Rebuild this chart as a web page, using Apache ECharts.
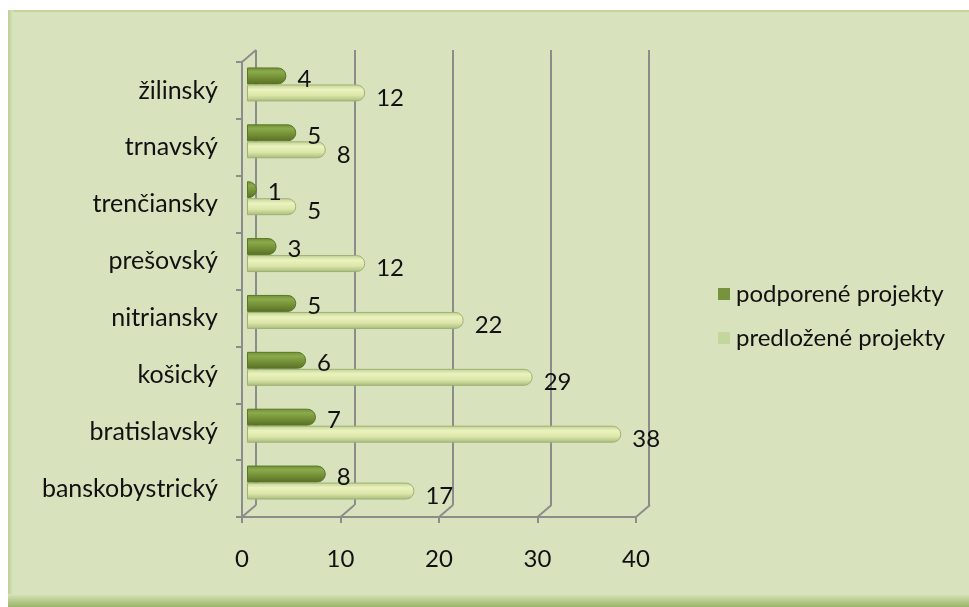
<!DOCTYPE html>
<html>
<head>
<meta charset="utf-8">
<title>Projekty podľa krajov</title>
<script src="https://cdn.jsdelivr.net/npm/echarts@6/dist/echarts.min.js"></script>
<style>
  html, body { margin: 0; padding: 0; background: #ffffff; }
  #main { width: 969px; height: 607px; }
</style>
</head>
<body>
<div id="main"></div>
<script>
// kraje odspodu nahor
var kraje = ['banskobystrický', 'bratislavský', 'košický', 'nitriansky',
             'prešovský', 'trenčiansky', 'trnavský', 'žilinský'];
var podporene = [8, 7, 6, 5, 3, 1, 5, 4];
var predlozene = [17, 38, 29, 22, 12, 5, 8, 12];
var osX = [0, 10, 20, 30, 40];

var font = 'Lato, "Open Sans", sans-serif';
var sivá = '#8c8c8c';

var tmava = new echarts.graphic.LinearGradient(0, 0, 0, 1, [
  { offset: 0, color: '#6f8e34' },
  { offset: 0.25, color: '#8aab4b' },
  { offset: 0.6, color: '#748f37' },
  { offset: 1, color: '#566f24' }
]);
var svetla = new echarts.graphic.LinearGradient(0, 0, 0, 1, [
  { offset: 0, color: '#c0d094' },
  { offset: 0.3, color: '#ebf3be' },
  { offset: 0.65, color: '#dbe6a8' },
  { offset: 1, color: '#a7b97d' }
]);

var chart = echarts.init(document.getElementById('main'));
var option = {
  animation: false,
  backgroundColor: '#ffffff',
  textStyle: { fontFamily: font },
  graphic: [
    { type: 'rect', z: -10, shape: { x: 8, y: 10, width: 961, height: 597 },
      style: { fill: '#d8e3bd' } },
    { type: 'rect', z: -9, shape: { x: 8, y: 10, width: 961, height: 2 },
      style: { fill: '#c3d59b' } },
    { type: 'rect', z: -9, shape: { x: 8, y: 10, width: 5, height: 597 },
      style: { fill: new echarts.graphic.LinearGradient(0, 0, 1, 0, [
        { offset: 0, color: '#bccf92' }, { offset: 1, color: '#d8e3bd' }]) } },
    { type: 'rect', z: -9, shape: { x: 8, y: 594, width: 961, height: 13 },
      style: { fill: new echarts.graphic.LinearGradient(0, 0, 0, 1, [
        { offset: 0, color: '#d8e3bd' }, { offset: 0.5, color: '#b9cc8f' },
        { offset: 1, color: '#9cb46b' }]) } }
  ],
  legend: {
    orient: 'vertical',
    left: 713,
    top: 277,
    itemWidth: 12,
    itemHeight: 12,
    itemGap: 20,
    icon: 'rect',
    data: [
      { name: 'podporené projekty', itemStyle: { color: '#77933c', borderWidth: 0 } },
      { name: 'predložené projekty', itemStyle: { color: '#c3d69b', borderWidth: 0 } }
    ],
    textStyle: { fontFamily: font, fontSize: 24, color: '#111', padding: [0, 0, 0, 1] }
  },
  grid: [
    { left: 242, top: 62, width: 394, height: 455 },   // predná rovina
    { left: 256, top: 50, width: 393, height: 455 },   // zadná stena
    { left: 247, top: 56, width: 394, height: 455 }    // stĺpce
  ],
  xAxis: [
    { gridIndex: 0, type: 'value', min: 0, max: 40, interval: 10,
      axisLine: { show: true, lineStyle: { color: sivá, width: 2 } },
      axisTick: { show: true, length: 6, lineStyle: { color: sivá, width: 2 } },
      axisLabel: { margin: 30, fontSize: 24, color: '#111', fontFamily: font },
      splitLine: { show: false } },
    { gridIndex: 1, type: 'value', min: 0, max: 40, interval: 10,
      axisLine: { show: false }, axisTick: { show: false }, axisLabel: { show: false },
      splitLine: { show: true, lineStyle: { color: sivá, width: 2 } } },
    { gridIndex: 2, type: 'value', min: 0, max: 40, interval: 10, show: false,
      splitLine: { show: false } }
  ],
  yAxis: [
    { gridIndex: 0, type: 'category', data: kraje,
      axisLine: { show: true, lineStyle: { color: sivá, width: 2 } },
      axisTick: { show: true, length: 6, lineStyle: { color: sivá, width: 2 } },
      axisLabel: { margin: 24, fontSize: 25, color: '#111', fontFamily: font } },
    { gridIndex: 1, type: 'category', data: kraje, show: false },
    { gridIndex: 2, type: 'category', data: kraje, show: false }
  ],
  series: [
    {
      name: 'podporené projekty', type: 'bar', xAxisIndex: 2, yAxisIndex: 2,
      data: podporene, barWidth: 17, barGap: '0%',
      itemStyle: { color: tmava, borderColor: '#5b7628', borderWidth: 1,
                   borderRadius: [0, 8, 8, 0] },
      label: { show: true, position: 'right', distance: 11, offset: [0, 3],
               fontSize: 24, color: '#111', fontFamily: font }
    },
    {
      name: 'predložené projekty', type: 'bar', xAxisIndex: 2, yAxisIndex: 2,
      data: predlozene, barWidth: 17, barGap: '0%',
      itemStyle: { color: svetla, borderColor: '#9fb175', borderWidth: 1,
                   borderRadius: [0, 8, 8, 0] },
      label: { show: true, position: 'right', distance: 11, offset: [0, 5],
               fontSize: 24, color: '#111', fontFamily: font }
    },
    {
      // šikmé spojnice podlahy a ľavej steny
      type: 'custom', xAxisIndex: 0, yAxisIndex: 0, silent: true,
      data: osX,
      renderItem: function (params, api) {
        var cs = params.coordSys;
        var x = api.coord([api.value(0), 0])[0];
        var bottom = cs.y + cs.height;
        var kids = [{
          type: 'line',
          shape: { x1: x, y1: bottom, x2: x + 14, y2: bottom - 12 },
          style: { stroke: sivá, lineWidth: 2 }
        }];
        if (api.value(0) === 0) {
          kids.push({
            type: 'line',
            shape: { x1: x, y1: cs.y, x2: x + 14, y2: cs.y - 12 },
            style: { stroke: sivá, lineWidth: 2 }
          });
        }
        return { type: 'group', children: kids };
      }
    }
  ]
};
chart.setOption(option);
</script>
</body>
</html>
